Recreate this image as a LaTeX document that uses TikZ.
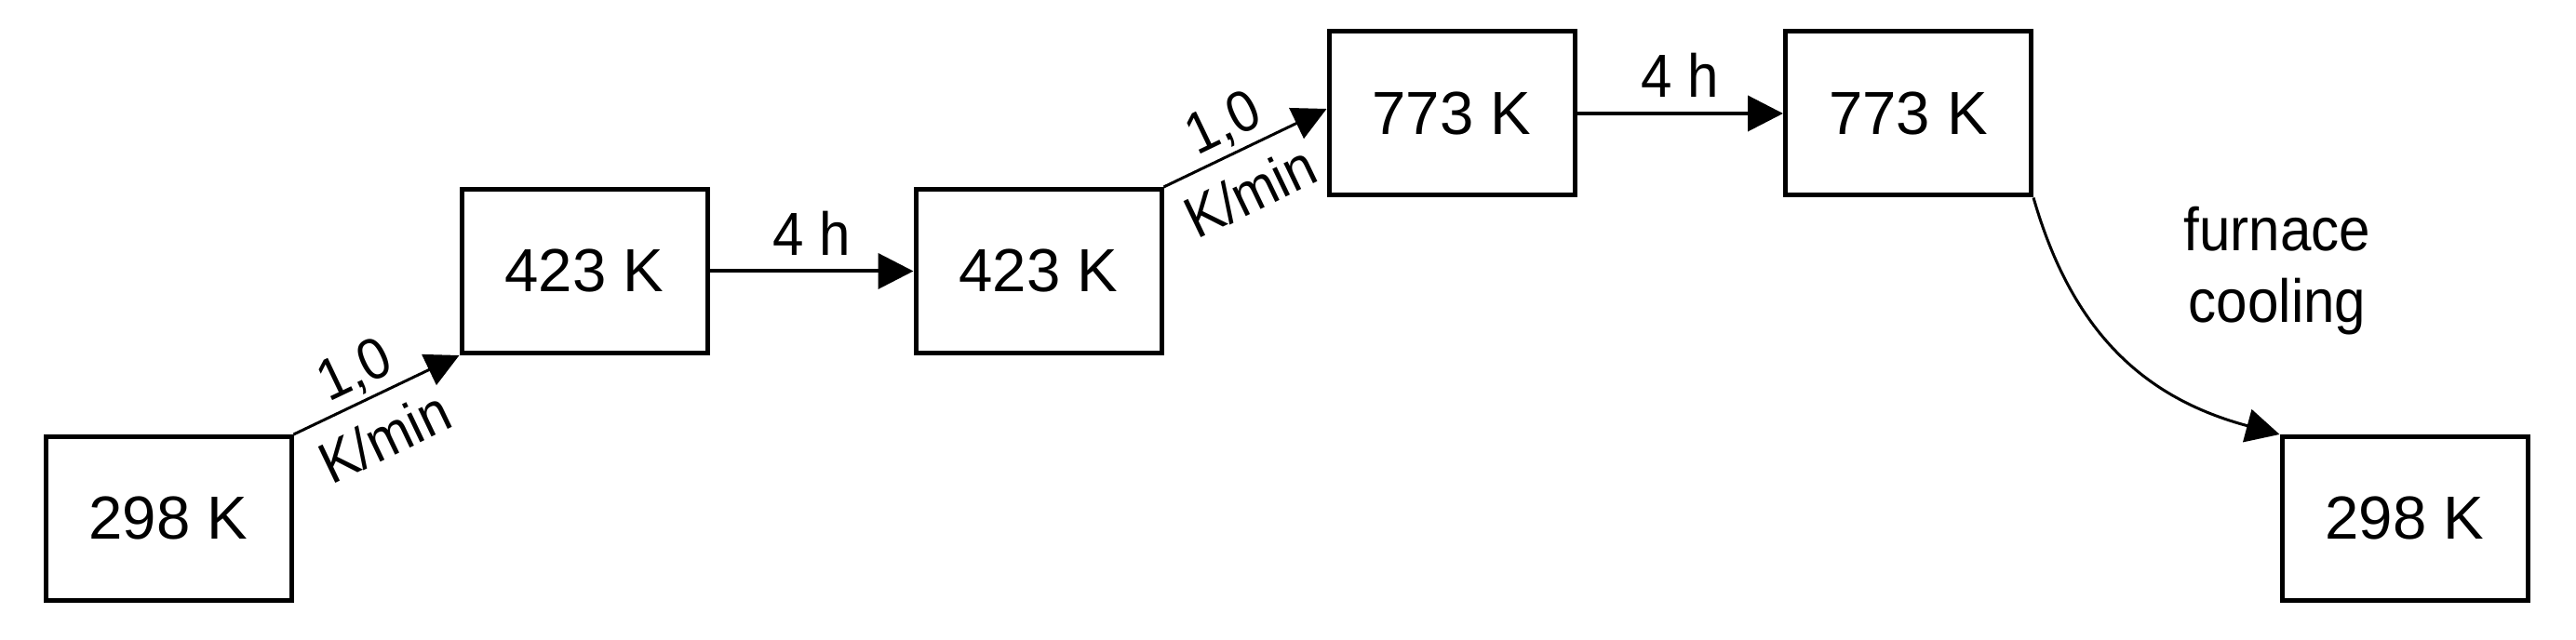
\documentclass[tikz,border=0pt]{standalone}
\usepackage{fontspec}
\setmainfont{Liberation Sans}
\newfontfamily\narrowsans[FakeStretch=0.92]{Liberation Sans}
\usetikzlibrary{arrows.meta}
\begin{document}
\begin{tikzpicture}[
  box/.style={draw=black, fill=white, line width=0.05cm, minimum width=2.64cm, minimum height=1.76cm, inner sep=0pt, font=\fontsize{18.6pt}{22pt}\selectfont},
  lbl/.style={inner sep=0pt, font=\narrowsans\fontsize{18.6pt}{21.9pt}\selectfont},
  slbl/.style={inner sep=0pt, font=\narrowsans\fontsize{17.8pt}{21pt}\selectfont},
  harr/.style={-{Triangle[length=0.38cm,width=0.38cm]}, line width=0.04cm},
  diagarr/.style={-{Triangle[length=0.36cm,width=0.36cm]}, line width=0.03cm},
]
\useasboundingbox (0,0) rectangle (27.68,6.88);
\node[box] (b1) at (1.81,1.305) {298 K};
\node[box] (b2) at (6.28,3.965) {423 K};
\node[box] (b3) at (11.16,3.965) {423 K};
\node[box] (b4) at (15.60,5.66) {773 K};
\node[box] (b5) at (20.505,5.66) {773 K};
\node[box] (b6) at (25.84,1.305) {298 K};

\draw[diagarr] (b1.north east) -- (b2.south west)
  node[slbl, sloped, pos=0.45, above=0.05cm] (r1a) {1,0}
  node[slbl, sloped, pos=0.44, below=0.2cm] (r1b) {K/min};
\draw[harr] (b2.east) -- (b3.west)
  node[lbl, midway, above=0.15cm] (h1) {4 h};
\draw[diagarr] (b3.north east) -- ([yshift=0.05cm]b4.west)
  node[slbl, sloped, pos=0.45, above=0.05cm] (r2a) {1,0}
  node[slbl, sloped, pos=0.42, below=0.2cm] (r2b) {K/min};
\draw[harr] (b4.east) -- (b5.west)
  node[lbl, midway, above=0.15cm] (h2) {4 h};
\draw[diagarr] (b5.south east) to[out=-74, in=165, looseness=1.05] (b6.north west);
\node[lbl, align=center, anchor=north] (fc) at (24.47,4.66) {furnace\\cooling};
\end{tikzpicture}
\end{document}
